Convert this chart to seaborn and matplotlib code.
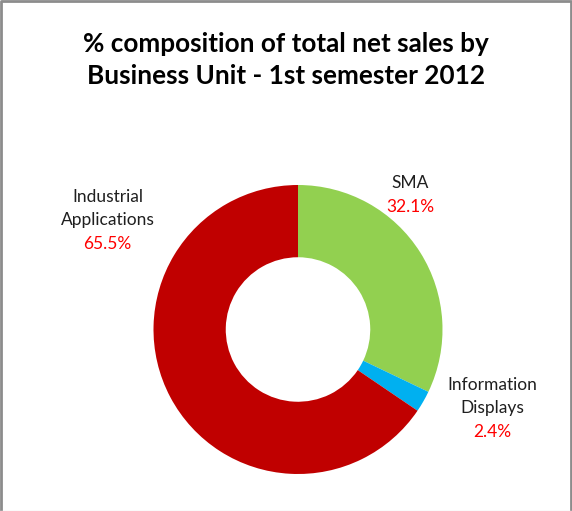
import matplotlib
matplotlib.use("Agg")
import matplotlib.pyplot as plt
import seaborn as sns
from matplotlib.lines import Line2D

sns.set_theme(style="white")
plt.rcParams["font.family"] = ["Lato", "DejaVu Sans"]

# Net sales share by business unit, 1st semester 2012 (clockwise from 12 o'clock)
units = ["SMA", "Information Displays", "Industrial Applications"]
label_lines = [["SMA"], ["Information", "Displays"], ["Industrial", "Applications"]]
shares = [32.1, 2.4, 65.5]
colors = ["#92D050", "#00B0F0", "#C00000"]

W, H, DPI = 572, 511, 100
fig = plt.figure(figsize=(W / DPI, H / DPI), dpi=DPI)
fig.patch.set_facecolor("white")

# chart area frame
fig.add_artist(Line2D([0.5 / W, 0.5 / W, (W - 1.5) / W, (W - 1.5) / W],
                      [0, 1 - 1.5 / H, 1 - 1.5 / H, 0],
                      transform=fig.transFigure, color="#8C8C8C", lw=2))
fig.add_artist(Line2D([0, 1], [0.5 / H, 0.5 / H], transform=fig.transFigure,
                      color="#E6E6E6", lw=1))

# donut axes: centre (298, 329.5) px, radius 144.5 px
cx, cy, r = 298, 329.5, 144.5
ax = fig.add_axes([(cx - r) / W, (H - cy - r) / H, 2 * r / W, 2 * r / H])

ax.pie(shares, colors=colors, startangle=90, counterclock=False, radius=1,
       wedgeprops=dict(width=0.5, linewidth=0))
ax.set_xlim(-1, 1)
ax.set_ylim(-1, 1)
ax.set_aspect("equal")
ax.axis("off")

# category labels with red percentage below the name
label_pos = {
    "SMA": (0.775, 1.012),
    "Information Displays": (1.345, -0.384),
    "Industrial Applications": (-1.318, 0.917),
}
step = 23 / r
for name, lines, val in zip(units, label_lines, shares):
    x, y = label_pos[name]
    for i, ln in enumerate(lines):
        ax.text(x, y - i * step, ln, ha="center", va="center", fontsize=12.5,
                color="#1F1F1F", clip_on=False)
    ax.text(x, y - len(lines) * step - 0.005, f"{val:.1f}%", ha="center",
            va="center", fontsize=12.5, color="#FF0000", clip_on=False)

fig.text(286 / W, 1 - 44 / H, "% composition of total net sales by",
         ha="center", va="center", fontsize=18.8, fontweight="bold", color="black")
fig.text(286 / W, 1 - 76 / H, "Business Unit - 1st semester 2012",
         ha="center", va="center", fontsize=18.8, fontweight="bold", color="black")

fig.savefig("out.png", dpi=DPI, facecolor="white")
